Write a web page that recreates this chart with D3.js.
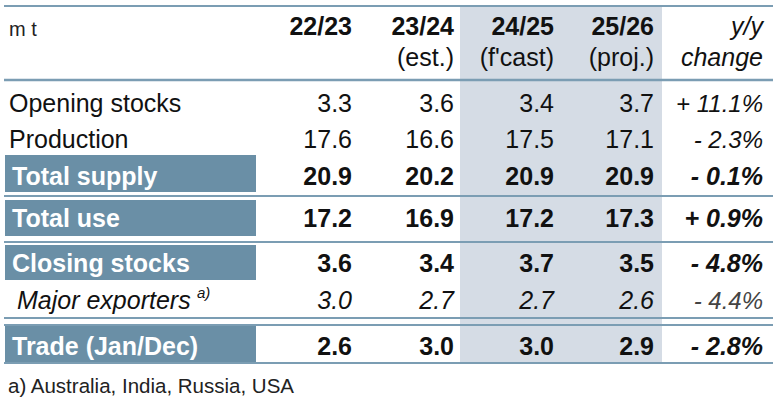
<!DOCTYPE html>
<html lang="en">
<head>
  <meta charset="UTF-8">
  <title>Supply and demand table</title>
  <script src="https://d3js.org/d3.v7.min.js"></script>
  <style>
    body { margin: 0; background: #fff; }
    svg { display: block; font-family: 'Liberation Sans', Arial, sans-serif; }
    .box-label { fill: #fff; font-weight: bold; font-size: 25px; }
  </style>
</head>
<body>
  <svg width="776" height="401"></svg>

  <script>
    // data
    const seasons = ["22/23", "23/24", "24/25", "25/26"];
    const seasonNotes = ["", "(est.)", "(f'cast)", "(proj.)"];
    const rows = ["Opening stocks", "Production", "Total supply", "Total use",
                  "Closing stocks", "Major exporters", "Trade (Jan/Dec)"];
    const s2223 = [3.3, 17.6, 20.9, 17.2, 3.6, 3.0, 2.6];
    const s2324 = [3.6, 16.6, 20.2, 16.9, 3.4, 2.7, 3.0];
    const s2425 = [3.4, 17.5, 20.9, 17.2, 3.7, 2.7, 3.0];
    const s2526 = [3.7, 17.1, 20.9, 17.3, 3.5, 2.6, 2.9];
    const yoyChange = [11.1, -2.3, -0.1, 0.9, -4.8, -4.4, -2.8];
    const footnote = "a) Australia, India, Russia, USA";

    const series = [s2223, s2324, s2425, s2526];

    // row look: bold rows sit in a blue box, major exporters is italic
    const boxed = new Set(["Total supply", "Total use", "Closing stocks", "Trade (Jan/Dec)"]);
    const italicRow = new Set(["Major exporters"]);

    const svg = d3.select("svg");
    const blue = "#6a8fa6", line = "#7b9db3", shade = "#d5dce5";

    // right edges of the number columns
    const x = d3.scaleOrdinal()
      .domain([...seasons, "yoy"])
      .range([352, 454, 554, 654, 763]);

    // text baselines of each row
    const y = d3.scaleOrdinal()
      .domain(rows)
      .range([112, 148, 185, 227, 272, 309, 355]);

    // box top/bottom for the highlighted rows
    const boxY = d3.scaleOrdinal()
      .domain(["Total supply", "Total use", "Closing stocks", "Trade (Jan/Dec)"])
      .range([[155, 192], [200, 236], [245, 280], [326, 362]]);

    // shaded forecast columns
    svg.append("rect")
      .attr("x", 460).attr("y", 7)
      .attr("width", 202).attr("height", 356)
      .attr("fill", shade);

    // horizontal rules
    const rules = [6, 80, 196, 242, 318, 325, 363];
    svg.selectAll(".rule")
      .data(rules)
      .enter().append("line")
        .attr("class", "rule")
        .attr("x1", 4).attr("x2", 773)
        .attr("y1", d => d).attr("y2", d => d)
        .attr("stroke", line)
        .attr("stroke-width", (d, i) => i === 1 ? 2.5 : 2);

    // header
    svg.append("text")
      .attr("x", 9).attr("y", 36)
      .attr("font-size", 20)
      .attr("fill", "#222")
      .text("m t");

    svg.selectAll(".season")
      .data(seasons)
      .enter().append("text")
        .attr("class", "season")
        .attr("x", d => x(d)).attr("y", 35)
        .attr("text-anchor", "end")
        .attr("font-size", 25)
        .attr("font-weight", "bold")
        .attr("fill", "#111")
        .text(d => d);

    svg.selectAll(".note")
      .data(seasons)
      .enter().append("text")
        .attr("class", "note")
        .attr("x", d => x(d)).attr("y", 66)
        .attr("text-anchor", "end")
        .attr("font-size", 25)
        .attr("fill", "#111")
        .text((d, i) => seasonNotes[i]);

    svg.append("text")
      .attr("x", x("yoy")).attr("y", 35)
      .attr("text-anchor", "end")
      .attr("font-size", 25).attr("font-style", "italic")
      .attr("fill", "#111")
      .text("y/y");
    svg.append("text")
      .attr("x", x("yoy")).attr("y", 66)
      .attr("text-anchor", "end")
      .attr("font-size", 25).attr("font-style", "italic")
      .attr("fill", "#111")
      .text("change");

    // blue label boxes
    const boxRows = rows.filter(r => boxed.has(r));
    svg.selectAll(".box")
      .data(boxRows)
      .enter().append("rect")
        .attr("class", "box")
        .attr("x", 5)
        .attr("y", d => boxY(d)[0])
        .attr("width", 251)
        .attr("height", d => boxY(d)[1] - boxY(d)[0])
        .attr("fill", blue);

    // row labels
    svg.selectAll(".label")
      .data(rows)
      .enter().append("text")
        .attr("class", d => boxed.has(d) ? "label box-label" : "label")
        .attr("x", d => boxed.has(d) ? 12 : (italicRow.has(d) ? 17 : 9))
        .attr("y", d => y(d))
        .attr("font-size", 25)
        .attr("font-style", d => italicRow.has(d) ? "italic" : null)
        .attr("fill", d => boxed.has(d) ? "#fff" : "#111")
        .text(d => d);

    // superscript on major exporters
    svg.append("text")
      .attr("x", 197).attr("y", y("Major exporters") - 11)
      .attr("font-size", 15).attr("font-style", "italic")
      .attr("fill", "#111")
      .text("a)");

    // values
    const fmt = d3.format(".1f");
    series.forEach((vals, c) => {
      svg.selectAll(".v" + c)
        .data(vals)
        .enter().append("text")
          .attr("class", "v" + c)
          .attr("x", x(seasons[c]))
          .attr("y", (d, i) => y(rows[i]))
          .attr("text-anchor", "end")
          .attr("font-size", 25)
          .attr("font-weight", (d, i) => boxed.has(rows[i]) ? "bold" : null)
          .attr("font-style", (d, i) => italicRow.has(rows[i]) ? "italic" : null)
          .attr("fill", "#111")
          .text(d => fmt(d));
    });

    // y/y change column
    svg.selectAll(".yoy")
      .data(yoyChange)
      .enter().append("text")
        .attr("class", "yoy")
        .attr("x", x("yoy"))
        .attr("y", (d, i) => y(rows[i]))
        .attr("text-anchor", "end")
        .attr("font-size", (d, i) => boxed.has(rows[i]) ? 25 : 24)
        .attr("font-style", "italic")
        .attr("font-weight", (d, i) => boxed.has(rows[i]) ? "bold" : null)
        .attr("fill", (d, i) => italicRow.has(rows[i]) ? "#444" : "#111")
        .text(d => (d < 0 ? "- " : "+ ") + fmt(Math.abs(d)) + "%");

    // footnote
    svg.append("text")
      .attr("x", 8).attr("y", 393)
      .attr("font-size", 20.5)
      .attr("fill", "#222")
      .text(footnote);
  </script>
</body>
</html>
